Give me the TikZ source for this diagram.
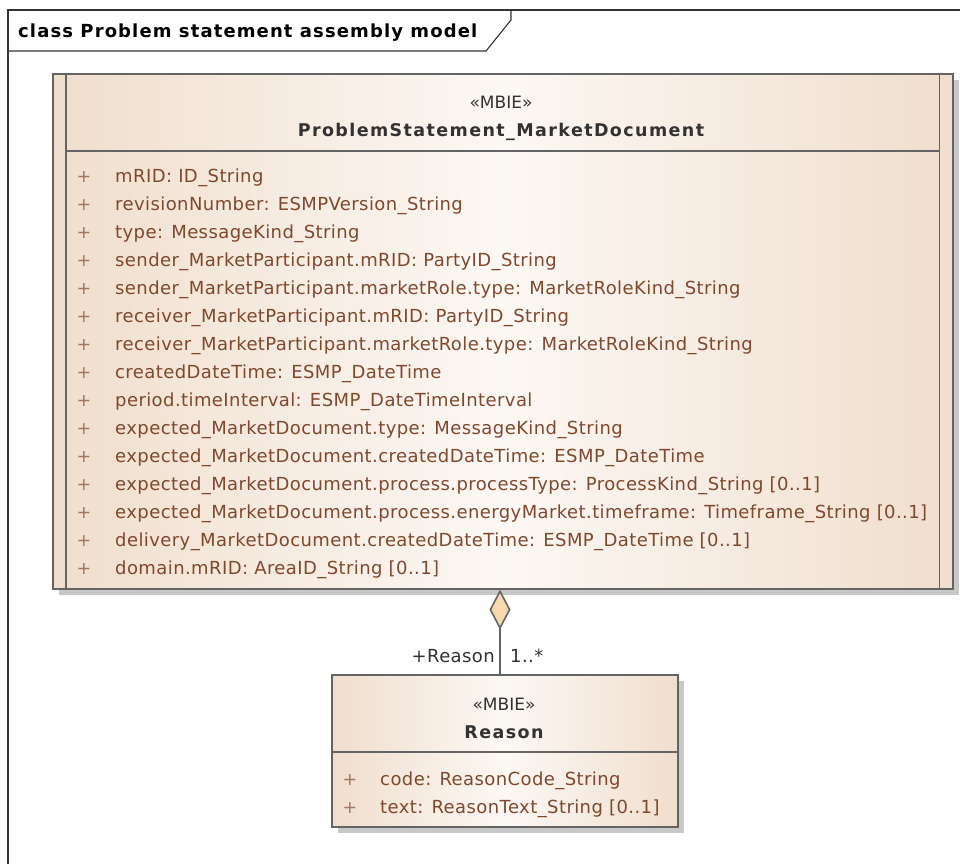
\documentclass[tikz,border=0pt]{standalone}
\usepackage{fontspec}
\setmainfont{DejaVu Sans}
\newfontfamily\hdrfont[LetterSpace=8]{DejaVu Sans}
\newfontfamily\titlefont[LetterSpace=6.2]{DejaVu Sans}
\newfontfamily\attrfont[LetterSpace=2.3]{DejaVu Sans}
\usetikzlibrary{shadows,arrows.meta,calc}
\definecolor{tanc}{RGB}{240,222,205}
\definecolor{tanlight}{RGB}{252,248,244}
\definecolor{boxline}{RGB}{100,100,100}
\definecolor{shadowgray}{RGB}{200,200,200}
\definecolor{attrc}{RGB}{128,72,45}
\definecolor{hdrc}{RGB}{50,50,50}
\definecolor{peach}{RGB}{248,218,174}
\tikzset{
  classbox/.style={draw=boxline, line width=1.6pt, inner sep=0pt, anchor=north west,
    left color=tanc, right color=tanc, middle color=tanlight,
    drop shadow={shadow xshift=6pt, shadow yshift=-6pt, fill=shadowgray, opacity=1}},
  sepline/.style={draw=boxline, line width=1.6pt},
  attr/.style={anchor=base west, inner sep=0pt, text=attrc, font=\fontsize{18}{20}\selectfont\attrfont},
  plus/.style={anchor=base, inner sep=0pt, text=attrc!75, font=\fontsize{17.5}{20}\selectfont},
  stereo/.style={anchor=base, inner sep=0pt, text=hdrc, font=\fontsize{17}{18}\selectfont},
  cname/.style={anchor=base, inner sep=0pt, text=hdrc, font=\fontsize{17.5}{20}\selectfont\hdrfont\bfseries},
  rolelbl/.style={inner sep=0pt, text=hdrc, font=\fontsize{18}{20}\selectfont\attrfont},
  frameline/.style={draw=black!80, line width=1.1pt},
  agg/.style={draw=boxline, line width=1.6pt, -{Diamond[length=40pt,width=21pt,fill=peach]}}
}
\begin{document}
\begin{tikzpicture}[x=1pt,y=-1pt]
\useasboundingbox (0,0) rectangle (960,863);
\fill[white] (0,0) rectangle (960,863);
% frame
\draw[frameline] (8,870) -- (8,10) -- (970,10);
\draw[frameline] (8,51) -- (486,51) -- (511,20) -- (511,10);
\node[anchor=base west, inner sep=0pt, text=black, font=\fontsize{18}{20}\selectfont\titlefont\bfseries] (title) at (18,37) {class Problem statement assembly model};
% main class
\node[classbox, minimum width=900pt, minimum height=515pt] (main) at (52,73) {};
\draw[sepline] ($(main.north west)+(14,0)$) -- ($(main.south west)+(14,0)$);
\draw[sepline] ($(main.north east)+(-14,0)$) -- ($(main.south east)+(-14,0)$);
\draw[sepline] ($(main.north west)+(14,78)$) -- ($(main.north east)+(-14,78)$);
\node[stereo] (mst) at (501,108) {«MBIE»};
\node[cname] (mname) at (501,136) {ProblemStatement\_MarketDocument};
\foreach \i/\t in {
 0/{mRID: ID\_String},
 1/{revisionNumber: ESMPVersion\_String},
 2/{type: MessageKind\_String},
 3/{sender\_MarketParticipant.mRID: PartyID\_String},
 4/{sender\_MarketParticipant.marketRole.type: MarketRoleKind\_String},
 5/{receiver\_MarketParticipant.mRID: PartyID\_String},
 6/{receiver\_MarketParticipant.marketRole.type: MarketRoleKind\_String},
 7/{createdDateTime: ESMP\_DateTime},
 8/{period.timeInterval: ESMP\_DateTimeInterval},
 9/{expected\_MarketDocument.type: MessageKind\_String},
 10/{expected\_MarketDocument.createdDateTime: ESMP\_DateTime},
 11/{expected\_MarketDocument.process.processType: ProcessKind\_String [0..1]},
 12/{expected\_MarketDocument.process.energyMarket.timeframe: Timeframe\_String [0..1]},
 13/{delivery\_MarketDocument.createdDateTime: ESMP\_DateTime [0..1]},
 14/{domain.mRID: AreaID\_String [0..1]}}{
  \node[plus] (mp\i) at (84,182+28*\i) {+};
  \node[attr] (ma\i) at (115,182+28*\i) {\t};
}
% Reason class
\node[classbox, minimum width=346pt, minimum height=152pt] (reason) at (331,674) {};
\draw[sepline] ($(reason.north west)+(0,78)$) -- ($(reason.north east)+(0,78)$);
\node[stereo] (rst) at (504,710) {«MBIE»};
\node[cname] (rname) at (504,738) {Reason};
\node[plus] (rp0) at (350,785) {+};
\node[attr] (ra0) at (380,785) {code: ReasonCode\_String};
\node[plus] (rp1) at (350,813) {+};
\node[attr] (ra1) at (380,813) {text: ReasonText\_String [0..1]};
% aggregation
\coordinate (dx) at (500,0);
\draw[agg] (dx |- reason.north) -- (dx |- main.south);
\node[rolelbl, anchor=base east] (role) at (495,662) {+Reason};
\node[rolelbl, anchor=base west] (mult) at (510,662) {1..*};
\end{tikzpicture}
\end{document}
